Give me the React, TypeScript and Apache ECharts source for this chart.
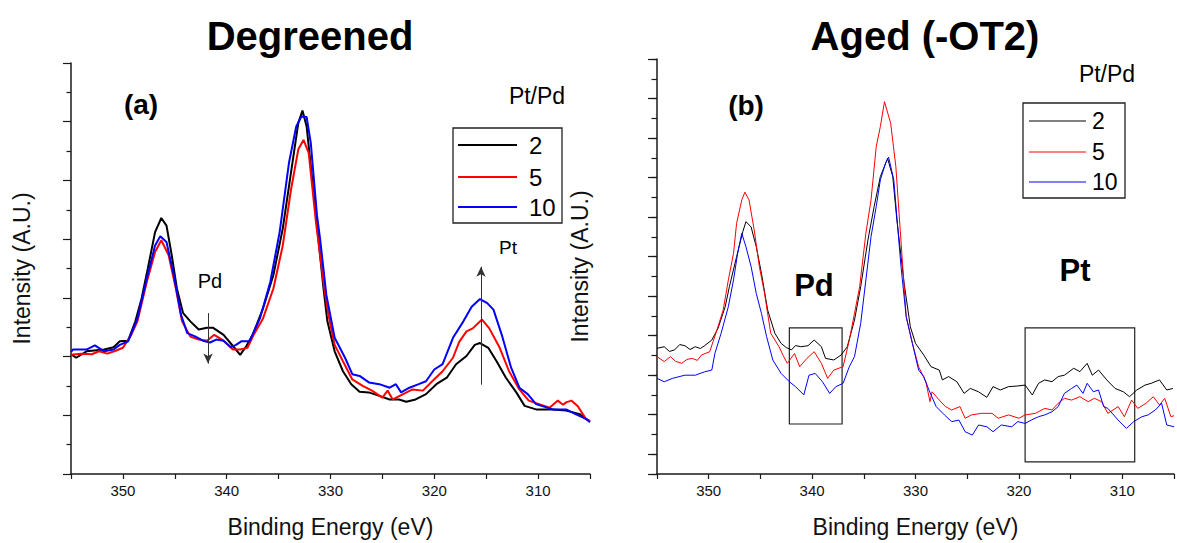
import React, { useEffect, useRef } from "react";
import * as echarts from "echarts";

// ---------- Data: (a) Degreened ----------
const degE2 = [355, 354.5, 353.5, 351.8, 350.9, 350.3, 349.5, 348.8, 348.2, 347.6, 346.9, 346.3, 345.8, 345.3, 344.8, 344.2, 343.5, 342.7, 341.9, 341.3, 340.3, 339.4, 338.7, 338.1, 337.5, 336.5, 335.5, 334.6, 333.8, 333.1, 332.7, 332.3, 331.5, 330.7, 330.3, 329.6, 328.8, 328.0, 327.2, 326.3, 325.3, 324.3, 323.4, 322.7, 321.8, 320.8, 319.8, 318.8, 317.9, 316.9, 316.1, 315.6, 314.8, 314.0, 313.1, 312.1, 311.3, 310.2, 308.6, 307.3, 306.0, 305.4, 305];
const degI2 = [2.04, 1.98, 2.09, 2.12, 2.16, 2.26, 2.27, 2.6, 2.99, 3.5, 4.12, 4.36, 4.23, 3.73, 3.16, 2.74, 2.6, 2.46, 2.49, 2.49, 2.37, 2.18, 2.03, 2.18, 2.37, 2.82, 3.39, 4.18, 5.14, 5.98, 6.19, 5.92, 4.57, 3.2, 2.6, 2.09, 1.75, 1.53, 1.4, 1.39, 1.33, 1.27, 1.27, 1.23, 1.27, 1.36, 1.53, 1.64, 1.87, 2.01, 2.2, 2.23, 2.15, 1.92, 1.64, 1.39, 1.16, 1.1, 1.1, 1.08, 1.02, 0.94, 0.9];

const degE5 = [355, 354.0, 353.0, 352.3, 351.5, 350.7, 350.0, 349.2, 348.6, 347.7, 346.9, 346.3, 345.6, 344.9, 344.3, 343.5, 342.7, 341.9, 341.2, 340.3, 339.4, 338.7, 338.0, 337.4, 336.5, 335.5, 334.6, 333.8, 333.1, 332.6, 332.1, 331.4, 330.6, 330.2, 329.6, 328.8, 327.9, 326.9, 326.0, 325.0, 324.5, 324.0, 323.0, 322.1, 321.1, 320.2, 319.2, 318.2, 317.6, 316.9, 316.3, 315.4, 314.7, 313.7, 312.8, 311.8, 310.9, 309.9, 308.9, 308.1, 307.6, 307.3, 306.8, 306.2, 305.4, 305];
const degI5 = [2.03, 2.05, 2.04, 2.09, 2.05, 2.1, 2.15, 2.37, 2.6, 3.27, 3.78, 3.98, 3.73, 3.16, 2.6, 2.34, 2.29, 2.27, 2.37, 2.27, 2.12, 2.12, 2.15, 2.37, 2.65, 3.16, 3.89, 4.85, 5.53, 5.69, 5.47, 4.29, 3.16, 2.71, 2.2, 1.92, 1.61, 1.5, 1.42, 1.3, 1.42, 1.27, 1.36, 1.44, 1.42, 1.58, 1.75, 1.98, 2.25, 2.43, 2.48, 2.63, 2.48, 2.15, 1.75, 1.44, 1.25, 1.19, 1.13, 1.25, 1.18, 1.22, 1.25, 1.16, 0.94, 0.9];

const degE10 = [355, 354.8, 353.5, 352.7, 351.8, 350.9, 350.3, 349.5, 348.6, 347.7, 346.9, 346.4, 345.8, 345.1, 344.4, 343.8, 343.0, 342.3, 341.6, 341.0, 340.3, 339.6, 339.1, 338.6, 337.8, 336.8, 335.8, 334.9, 334.0, 333.3, 332.8, 332.3, 331.9, 331.3, 331.0, 330.4, 329.6, 328.6, 327.9, 327.2, 326.3, 325.3, 324.3, 323.7, 323.2, 322.4, 321.5, 320.8, 320.0, 319.2, 318.2, 317.2, 316.4, 315.6, 314.9, 314.3, 313.5, 312.6, 311.8, 311.0, 310.2, 308.6, 307.3, 306.4, 305.4, 305];
const degI10 = [2.08, 2.12, 2.12, 2.19, 2.09, 2.12, 2.2, 2.26, 2.65, 3.33, 3.89, 4.05, 3.95, 3.39, 2.71, 2.4, 2.34, 2.27, 2.24, 2.29, 2.27, 2.16, 2.2, 2.26, 2.26, 2.65, 3.27, 4.12, 5.3, 5.92, 6.09, 6.08, 5.64, 4.4, 4.0, 3.05, 2.32, 1.98, 1.7, 1.67, 1.56, 1.53, 1.47, 1.53, 1.39, 1.47, 1.53, 1.58, 1.78, 1.87, 2.32, 2.6, 2.85, 2.98, 2.91, 2.8, 2.37, 1.81, 1.47, 1.36, 1.19, 1.1, 1.1, 1.02, 0.94, 0.88];

// ---------- Data: (b) Aged (-OT2) ----------
const ageE2 = [355, 354.3, 353.8, 353.3, 352.8, 352.3, 351.8, 351.3, 350.8, 350.4, 349.7, 349.1, 348.4, 348.0, 347.3, 346.7, 346.4, 345.9, 345.4, 344.9, 344.3, 343.6, 343.0, 342.5, 342.0, 341.6, 341.1, 340.4, 339.8, 339.1, 338.7, 337.9, 337.2, 336.6, 335.9, 335.3, 334.6, 334.0, 333.4, 332.7, 332.2, 331.8, 331.1, 330.5, 330.0, 329.2, 328.5, 327.7, 327.4, 326.8, 326.0, 325.3, 324.7, 323.9, 323.1, 322.5, 321.8, 321.0, 320.2, 319.4, 318.7, 318.1, 317.5, 316.8, 316.2, 315.6, 314.7, 314.1, 313.4, 312.9, 312.3, 311.5, 310.7, 309.9, 309.3, 308.6, 307.8, 307.2, 306.4, 305.7, 305.1];
const ageI2 = [6.36, 6.44, 6.2, 6.28, 6.55, 6.49, 6.3, 6.44, 6.35, 6.49, 6.78, 7.37, 8.47, 9.48, 11.0, 12.26, 12.77, 12.5, 11.5, 10.16, 8.3, 7.12, 6.61, 6.4, 6.28, 6.5, 6.44, 6.49, 6.78, 6.44, 5.85, 5.77, 6.02, 6.44, 7.79, 9.48, 11.84, 13.53, 15.05, 15.97, 15.05, 12.85, 9.65, 7.45, 6.61, 6.02, 5.43, 5.26, 4.76, 4.93, 4.67, 4.08, 4.33, 4.16, 3.88, 4.42, 4.25, 4.42, 4.45, 4.5, 4.0, 4.59, 4.76, 4.67, 4.93, 5.0, 5.35, 5.18, 5.6, 5.0, 5.26, 4.76, 4.33, 4.16, 3.91, 4.25, 4.5, 4.59, 4.76, 4.25, 4.33];

const ageE5 = [355, 354.3, 353.7, 353.2, 352.6, 352.1, 351.6, 351.1, 350.7, 349.9, 349.2, 348.6, 348.1, 347.6, 347.3, 346.8, 346.5, 346.1, 345.6, 345.1, 344.6, 344.0, 343.2, 342.8, 342.4, 341.7, 341.2, 340.5, 339.8, 339.1, 338.5, 337.9, 337.0, 336.4, 335.9, 335.4, 334.8, 334.3, 333.8, 333.4, 333.0, 332.4, 331.9, 331.3, 330.9, 330.3, 329.7, 329.0, 328.6, 328.4, 327.7, 327.1, 326.5, 325.7, 325.2, 324.6, 323.6, 322.6, 322.0, 321.0, 320.0, 319.4, 318.4, 317.5, 316.8, 316.2, 315.6, 314.9, 314.1, 313.3, 312.7, 312.0, 311.4, 310.4, 309.8, 309.1, 308.5, 307.7, 307.0, 306.4, 305.9, 305.3, 305];
const ageI5 = [5.94, 5.69, 5.94, 5.7, 5.6, 5.8, 5.85, 5.75, 6.02, 6.19, 7.29, 8.3, 9.82, 11.17, 12.69, 13.87, 14.26, 13.87, 12.35, 10.49, 9.14, 7.12, 6.44, 6.0, 5.6, 6.1, 5.43, 5.85, 6.19, 5.6, 4.84, 5.26, 5.43, 6.78, 8.13, 9.48, 12.18, 13.87, 16.56, 17.58, 18.84, 17.75, 15.55, 11.0, 7.96, 6.61, 5.43, 4.67, 3.66, 4.16, 3.74, 3.41, 3.24, 3.41, 2.82, 2.99, 3.07, 3.07, 2.82, 2.99, 2.82, 2.99, 3.07, 3.32, 3.24, 3.58, 3.83, 3.74, 3.91, 3.66, 3.83, 3.66, 3.07, 3.41, 2.9, 3.74, 3.32, 3.58, 3.91, 3.49, 3.83, 2.9, 2.95];

const ageE10 = [355, 354.3, 353.5, 352.3, 351.3, 350.4, 349.7, 349.4, 348.8, 348.1, 347.6, 347.2, 346.8, 346.4, 345.9, 345.4, 344.9, 344.4, 343.8, 343.0, 342.2, 341.6, 340.8, 340.3, 339.7, 339.0, 338.3, 337.7, 337.0, 336.4, 335.9, 335.3, 334.8, 334.3, 333.8, 333.4, 332.9, 332.6, 332.1, 331.4, 330.9, 330.3, 329.7, 329.2, 328.7, 328.0, 327.2, 326.5, 325.8, 325.2, 324.5, 323.9, 323.1, 322.5, 321.7, 320.7, 320.1, 319.4, 318.8, 318.1, 317.5, 316.8, 316.2, 315.6, 314.9, 314.4, 313.8, 313.4, 312.8, 312.3, 311.8, 311.4, 310.4, 309.6, 308.9, 308.1, 307.5, 306.8, 306.2, 305.7, 305.0];
const ageI10 = [4.84, 4.67, 4.84, 5.0, 5.0, 5.17, 5.26, 6.1, 7.12, 8.47, 9.82, 11.17, 12.18, 11.5, 10.5, 9.14, 8.13, 6.95, 5.77, 5.09, 4.67, 4.42, 4.0, 5.0, 5.09, 4.67, 4.08, 4.42, 4.59, 5.43, 5.94, 7.62, 9.82, 12.01, 13.53, 14.88, 15.72, 16.03, 14.88, 10.49, 7.96, 6.61, 5.26, 4.93, 4.25, 3.41, 2.99, 2.65, 2.73, 2.14, 1.97, 2.48, 2.39, 2.14, 2.48, 2.39, 2.65, 2.56, 2.73, 2.9, 2.99, 3.15, 3.41, 4.08, 4.33, 4.5, 4.08, 4.59, 4.16, 4.25, 3.41, 3.32, 2.73, 2.31, 2.65, 2.9, 2.99, 3.24, 3.58, 2.48, 2.39];

// ---------- Labels / annotations ----------
const seriesNames = ["2", "5", "10"];
const seriesColors = ["#000000", "#ff0000", "#0000ff"];
const xTickMarks = [350, 340, 330, 320, 310];
const pdArrowA = { e: 341.8, from: 2.74, to: 1.88 };
const ptArrowA = { e: 315.5, from: 1.52, to: 3.53 };
const pdBoxB = { e1: 342.2, e2: 337.1, i1: 7.39, i2: 2.53 };
const ptBoxB = { e1: 319.4, e2: 308.8, i1: 7.39, i2: 0.61 };

const zip = (xs: number[], ys: number[]) => xs.map((x, i) => [x, ys[i]]);

const FONT = "'Liberation Sans', Arial, Helvetica, sans-serif";

export default function App() {
  const ref = useRef<HTMLDivElement>(null);
  useEffect(() => {
    if (!ref.current) return;
    const chart = echarts.init(ref.current, null, { renderer: "svg" });
    const axisLineStyle = { color: "#1a1a1a", width: 1.5 };
    const makeX = (gridIndex: number) => ({
      type: "value",
      gridIndex,
      min: 305,
      max: 355,
      interval: 5,
      inverse: true,
      axisLine: { show: true, onZero: false, lineStyle: axisLineStyle },
      axisTick: { show: true, length: 5, lineStyle: { color: "#1a1a1a", width: 1.2 } },
      axisLabel: {
        show: true,
        margin: 9,
        fontSize: 15,
        color: "#111",
        fontFamily: FONT,
        formatter: (v: number) => (xTickMarks.indexOf(v) >= 0 ? String(v) : ""),
      },
      splitLine: { show: false },
      name: "Binding Energy (eV)",
      nameLocation: "middle",
      nameGap: 41,
      nameTextStyle: { fontSize: 23, color: "#111", fontFamily: FONT },
    });
    const yName = {
      name: "Intensity (A.U.)",
      nameLocation: "middle",
      nameRotate: 90,
      nameTextStyle: { fontSize: 23, color: "#111", fontFamily: FONT },
    };
    const lineSeries = (
      name: string,
      color: string,
      width: number,
      xs: number[],
      ys: number[],
      axis: number,
      yAxisIndex: number,
      extra: any = {}
    ) => ({
      type: "line",
      name,
      xAxisIndex: axis,
      yAxisIndex,
      data: zip(xs, ys),
      symbol: "none",
      showSymbol: false,
      lineStyle: { color, width },
      itemStyle: { color },
      z: 3,
      ...extra,
    });
    const arrowLine = (a: { e: number; from: number; to: number }) => [
      { coord: [a.e, a.from], symbol: "none" },
      { coord: [a.e, a.to], symbol: "arrow" },
    ];
    const boxArea = (b: { e1: number; e2: number; i1: number; i2: number }) => [
      { coord: [b.e1, b.i1] },
      { coord: [b.e2, b.i2] },
    ];

    const text = (t: string, x: number, y: number, size: number, bold = false) => ({
      type: "text",
      x,
      y,
      style: {
        text: t,
        fontSize: size,
        fontWeight: bold ? "bold" : "normal",
        fontFamily: FONT,
        fill: "#000",
        align: "center",
        verticalAlign: "middle",
        textAlign: "center",
        textVerticalAlign: "middle",
      },
      z: 10,
    });

    const legendGraphic = (
      bx: number,
      by: number,
      bw: number,
      bh: number,
      lx1: number,
      lx2: number,
      ys: number[],
      tx: number,
      fs: number,
      lw: number
    ) => {
      const items: any[] = [
        {
          type: "rect",
          shape: { x: bx, y: by, width: bw, height: bh },
          style: { fill: "#fff", stroke: "#222", lineWidth: 1.3 },
          z: 8,
        },
      ];
      seriesNames.forEach((n, i) => {
        items.push({
          type: "line",
          shape: { x1: lx1, y1: ys[i], x2: lx2, y2: ys[i] },
          style: { stroke: seriesColors[i], lineWidth: lw },
          z: 9,
        });
        items.push({
          type: "text",
          x: tx,
          y: ys[i],
          style: {
            text: n,
            fontSize: fs,
            fontFamily: FONT,
            fill: "#000",
            align: "left",
            verticalAlign: "middle",
            textAlign: "left",
            textVerticalAlign: "middle",
          },
          z: 9,
        });
      });
      return items;
    };

    const option: any = {
      animation: false,
      backgroundColor: "#fff",
      grid: [
        { left: 71, top: 63, width: 519, height: 414 },
        { left: 657, top: 59, width: 519, height: 415 },
      ],
      xAxis: [makeX(0), makeX(1)],
      yAxis: [
        {
          type: "value",
          gridIndex: 0,
          min: 0,
          max: 7,
          interval: 1,
          axisLine: { show: true, onZero: false, lineStyle: axisLineStyle },
          axisTick: { show: true, length: 8, lineStyle: { color: "#1a1a1a", width: 1.2 } },
          minorTick: { show: true, splitNumber: 2, length: 4.5, lineStyle: { color: "#1a1a1a", width: 1.2 } },
          axisLabel: { show: false },
          splitLine: { show: false },
          minorSplitLine: { show: false },
          nameGap: 38,
          ...yName,
        },
        {
          type: "value",
          gridIndex: 1,
          min: 0,
          max: 21,
          interval: 1,
          axisLine: { show: true, onZero: false, lineStyle: axisLineStyle },
          axisTick: { show: true, length: 5.5, lineStyle: { color: "#1a1a1a", width: 1.2 } },
          axisLabel: { show: false },
          splitLine: { show: false },
          nameGap: 66,
          ...yName,
        },
        {
          type: "value",
          gridIndex: 1,
          position: "left",
          inverse: true,
          min: 0,
          max: 21,
          interval: 2,
          axisLine: { show: false },
          axisTick: { show: true, length: 9, lineStyle: { color: "#1a1a1a", width: 1.2 } },
          axisLabel: { show: false },
          splitLine: { show: false },
        },
      ],
      series: [
        lineSeries(seriesNames[0], seriesColors[0], 2, degE2, degI2, 0, 0, {
          markLine: {
            silent: true,
            symbolSize: [7, 10],
            lineStyle: { color: "#333", width: 1, type: "solid" },
            label: { show: false },
            data: [arrowLine(pdArrowA), arrowLine(ptArrowA)],
          },
        }),
        lineSeries(seriesNames[1], seriesColors[1], 2, degE5, degI5, 0, 0),
        lineSeries(seriesNames[2], seriesColors[2], 2, degE10, degI10, 0, 0),
        lineSeries(seriesNames[0], seriesColors[0], 1, ageE2, ageI2, 1, 1, {
          markArea: {
            silent: true,
            itemStyle: { color: "rgba(0,0,0,0)", borderColor: "#222", borderWidth: 1.2 },
            label: { show: false },
            data: [boxArea(pdBoxB), boxArea(ptBoxB)],
          },
        }),
        lineSeries(seriesNames[1], seriesColors[1], 1, ageE5, ageI5, 1, 1),
        lineSeries(seriesNames[2], seriesColors[2], 1, ageE10, ageI10, 1, 1),
      ],
      graphic: [
        text("Degreened", 310, 36, 40, true),
        text("Aged (-OT2)", 925, 36, 40, true),
        text("(a)", 141, 104, 28, true),
        text("(b)", 746, 105, 28, true),
        text("Pt/Pd", 537, 96, 23),
        text("Pt/Pd", 1107, 74, 23),
        text("Pd", 210, 281, 20),
        text("Pt", 508, 247, 19),
        text("Pd", 814, 285, 31, true),
        text("Pt", 1075, 270, 31, true),
        ...legendGraphic(453, 128, 109, 95, 458, 517, [145, 177, 207], 529, 24, 2),
        ...legendGraphic(1023, 103, 102, 95, 1029, 1086, [121, 152, 182], 1092, 23, 1),
      ],
    };
    chart.setOption(option);
    return () => chart.dispose();
  }, []);
  return (
    <div
      ref={ref}
      style={{ position: "fixed", left: 0, top: 0, width: 1177, height: 543, background: "#fff" }}
    />
  );
}
